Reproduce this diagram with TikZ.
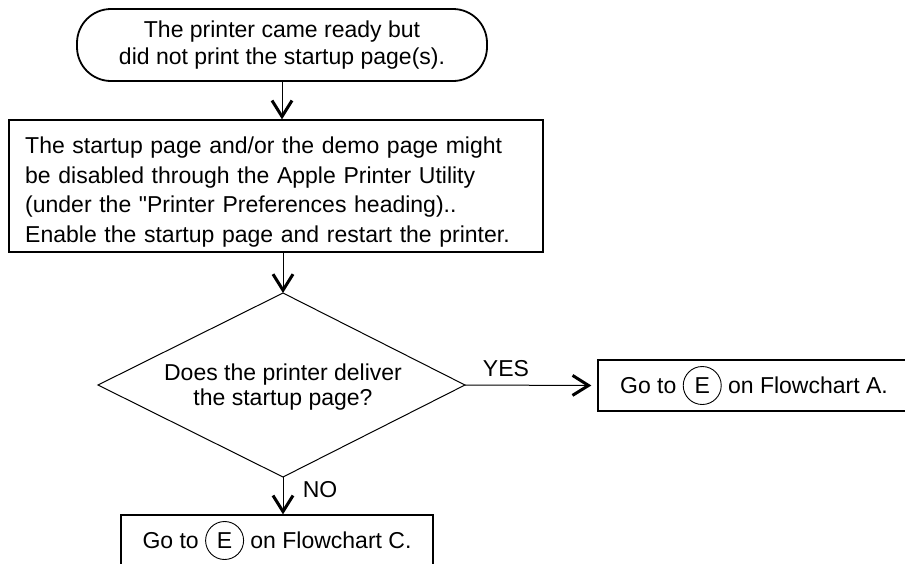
\documentclass[tikz,border=0pt]{standalone}
\usepackage{fontspec}
\setmainfont{Liberation Sans}[Ligatures=TeXOff]
\usetikzlibrary{arrows.meta}
\newcommand\circE{\tikz[baseline=(ce.base)]\node[draw,circle,line width=0.9pt,inner sep=0pt,minimum size=38pt](ce){E};}
\tikzset{
  txt/.style={font=\fontsize{23}{29.5}\selectfont},
  boxnode/.style={draw, line width=1.3pt, txt},
  conn/.style={line width=1pt, -{Straight Barb[length=16pt,width=20pt,line width=3pt]}},
  lbl/.style={txt, inner sep=0pt}
}
\begin{document}
\begin{tikzpicture}[x=1pt,y=-1pt]
\useasboundingbox (0,0) rectangle (905,563);
\clip (0,0) rectangle (905,563);
\fill[white] (0,0) rectangle (905,563);
% start terminal
\node[boxnode, line width=1.8pt, rounded corners=34pt, minimum width=410pt, minimum height=72pt, align=center, font=\fontsize{23}{27}\selectfont] (start) at (282,45)
  {The printer came ready but\\did not print the startup page(s).};
% process box
\node[boxnode, minimum width=534pt, minimum height=132pt] (proc) at (276,186) {};
\node[txt, text width=504pt, inner sep=0pt, align=left, anchor=north west] (proctxt) at (25,137)
  {The startup page and/or the demo page might\\be disabled through the Apple Printer Utility\\(under the "Printer Preferences heading)..\\Enable the startup page and restart the printer.};
% decision
\coordinate (dtop) at (283,293);
\coordinate (dleft) at (98,385);
\coordinate (dright) at (465,385);
\coordinate (dbot) at (283,477);
\draw[line width=1pt] (dtop) -- (dright) -- (dbot) -- (dleft) -- cycle;
\node[txt, align=center, inner sep=0pt, font=\fontsize{23}{25.5}\selectfont] (dec) at (283,387)
  {Does the printer deliver\\the startup page?};
% outcomes
\node[boxnode, minimum width=312pt, minimum height=51pt] (ba) at (754,385.5) {Go to \circE\ on Flowchart A.};
\node[boxnode, minimum width=312pt, minimum height=51pt] (bc) at (277,540.5) {Go to \circE\ on Flowchart C.};
\node[lbl] (yes) at (506,369) {YES};
\node[lbl] (no) at (320,490) {NO};
% connectors
\draw[conn] (start.south) -- (start.south |- proc.north);
\draw[conn] (dtop |- proc.south) -- (dtop);
\draw[conn, shorten >=6pt] (dright) -- (ba.west);
\draw[conn] (dbot) -- (dbot |- bc.north);
\end{tikzpicture}
\end{document}
